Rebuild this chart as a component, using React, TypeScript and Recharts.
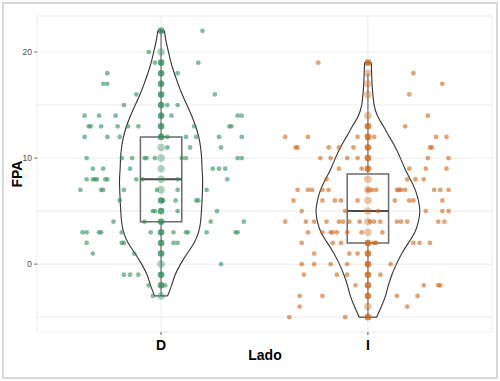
import {
  CartesianGrid,
  ComposedChart,
  Label,
  Line,
  ReferenceArea,
  ReferenceLine,
  Scatter,
  XAxis,
  YAxis,
} from "recharts";

const GREEN = "#2e8b57";
const ORANGE = "#cc6314";
const FONT = "'Liberation Sans', Arial, sans-serif";

const CATEGORIES = ["D", "I"];
const Y_TICKS = [-5, 0, 5, 10, 15, 20];
const Y_MAJOR = [0, 10, 20];

// jittered observations: value -> horizontal positions
const dJitter: [number, number[]][] = [
  [22, [1.2]],
  [20, [0.94]],
  [19, [0.97, 1.18]],
  [18, [0.74, 1.08]],
  [17, [0.72, 0.74]],
  [16, [0.88, 1.26]],
  [15, [0.82, 1.03, 1.08]],
  [14, [0.63, 0.7, 0.78, 1.05, 1.37, 1.39]],
  [13, [0.65, 0.66, 0.71, 0.79, 0.84, 0.89, 1.16, 1.33, 1.34]],
  [12, [0.63, 0.74, 0.8, 1.03, 1.12, 1.17, 1.28, 1.39]],
  [11, [1.03, 1.14, 1.29]],
  [10, [0.64, 0.81, 0.86, 0.92, 0.93, 0.97, 1.1, 1.12, 1.37, 1.39]],
  [9, [0.67, 0.72, 0.85, 1.25, 1.28, 1.31]],
  [8, [0.64, 0.67, 0.68, 0.69, 0.73, 0.74, 0.88, 0.91, 1.08, 1.32]],
  [7, [0.61, 0.71, 0.72, 0.82, 0.98, 1.08, 1.22]],
  [6, [0.8, 1.01, 1.07, 1.17, 1.18]],
  [5, [0.96, 0.97, 1.08, 1.27]],
  [4, [0.77, 0.92, 1.24, 1.4]],
  [3, [0.62, 0.64, 0.7, 0.71, 0.81, 0.95, 1.06, 1.12, 1.13, 1.22, 1.36, 1.37]],
  [2, [0.64, 0.81, 0.82, 1.06, 1.08]],
  [1, [0.67, 0.87]],
  [0, [1.29]],
  [-1, [0.82, 0.85, 0.89]],
  [-2, [0.94, 1.02]],
  [-3, [0.96]],
];

const iJitter: [number, number[]][] = [
  [19, [1.76]],
  [18, [2.22]],
  [17, [2.36]],
  [16, [2.2]],
  [14, [2.29]],
  [13, [2.18]],
  [12, [1.6, 1.71, 1.95, 2.03, 2.33, 2.38]],
  [11, [1.65, 1.66, 1.81, 1.86, 1.93, 2.3, 2.31]],
  [10, [1.77, 1.82, 1.9, 1.95, 2.29, 2.39]],
  [9, [1.86, 1.97, 2.2, 2.28, 2.38]],
  [8, [1.8, 2.19, 2.23, 2.27]],
  [7, [1.66, 1.71, 1.73, 1.78, 1.81, 2.0, 2.02, 2.04, 2.14, 2.15, 2.16, 2.18, 2.32, 2.35, 2.39]],
  [6, [1.64, 1.78, 1.84, 1.87, 1.95, 2.13, 2.2, 2.22, 2.36]],
  [5, [1.68, 1.89, 2.05, 2.28, 2.36, 2.39]],
  [4, [1.6, 1.7, 1.74, 1.8, 1.86, 1.88, 1.91, 1.96, 2.01, 2.03, 2.06, 2.14, 2.16, 2.19, 2.34, 2.37]],
  [3, [1.71, 1.78, 1.82, 1.83, 1.85, 1.9, 1.97, 2.07]],
  [2, [1.68, 1.83, 1.87, 2.03, 2.04, 2.22, 2.25, 2.3]],
  [1, [1.74, 1.91, 1.95]],
  [0, [1.68, 1.74, 1.82, 1.9, 2.11]],
  [-1, [1.69, 1.85, 1.9, 2.06]],
  [-2, [1.94, 2.27, 2.34, 2.35]],
  [-3, [1.67, 1.78, 2.14, 2.24]],
  [-4, [1.67, 2.19]],
  [-5, [1.62, 1.89]],
];

// stacked values on the centre line (light = few, dark = many overlapping)
const dStackLight = [20, 11, 10, 9, 8, 7, 0, -3];
const dStackDark = [22, 19, 18, 17, 16, 15, 14, 13, 12, 6, 5, 4, 3, 2, 1, -1, -2];
const iStackLight = [18, 17, 16, 14, 8, 7, 6, 5, 4, 3, -4];
const iStackDark = [19, 13, 12, 11, 10, 9, 2, 1, 0, -1, -2, -3, -5];

// violin outline: levels and half widths (x units)
const dLevels = [22, 21, 20, 19, 18, 17, 16, 15, 14, 13, 12, 11, 10, 9, 8, 7, 6, 5, 4, 3, 2, 1, 0, -1, -2, -3];
const dHalf = [
  0.016, 0.024, 0.036, 0.048, 0.064, 0.082, 0.102, 0.125, 0.148, 0.167, 0.182, 0.191, 0.196, 0.198, 0.201, 0.2,
  0.198, 0.195, 0.191, 0.181, 0.159, 0.126, 0.094, 0.068, 0.051, 0.031,
];
const iLevels = [19, 18, 17, 16, 15, 14, 13, 12, 11, 10, 9, 8, 7, 6, 5, 4, 3, 2, 1, 0, -1, -2, -3, -4, -5];
const iHalf = [
  0.016, 0.018, 0.02, 0.024, 0.03, 0.046, 0.075, 0.104, 0.133, 0.157, 0.179, 0.205, 0.229, 0.244, 0.251, 0.244,
  0.227, 0.196, 0.164, 0.138, 0.116, 0.099, 0.085, 0.065, 0.042,
];

// box stats: [q1, median, q3, lowWhisker, highWhisker]
const dBox = [4, 8, 12, -3, 22];
const iBox = [2, 5, 8.5, -5, 18];

const flatten = (rows: [number, number[]][]) => rows.flatMap(([y, xs]) => xs.map((x) => ({ x, y })));
const column = (c: number, ys: number[]) => ys.map((y) => ({ x: c, y }));
const side = (c: number, levels: number[], half: number[], s: number) =>
  levels.map((y, i) => ({ x: c + s * half[i], y }));
const cap = (c: number, y: number, h: number) => [
  { x: c - h, y },
  { x: c + h, y },
];

const dot = (r: number, fill: string, op: number) => (p: { cx?: number; cy?: number }) => (
  <circle cx={p.cx ?? 0} cy={p.cy ?? 0} r={r} fill={fill} fillOpacity={op} />
);

function YTick(props: { y?: number; payload?: { value: number } }) {
  const v = props.payload?.value ?? 0;
  if (!Y_MAJOR.includes(v)) return null;
  const y = props.y ?? 0;
  return (
    <g>
      <line x1={34.3} x2={37} y1={y} y2={y} stroke="#333" strokeWidth={0.8} />
      <text x={32} y={y} dy="0.35em" textAnchor="end" fontSize={8.5} fill="#4d4d4d" fontFamily={FONT}>
        {v}
      </text>
    </g>
  );
}

function XTick(props: { x?: number; y?: number; payload?: { value: number } }) {
  const x = props.x ?? 0;
  const v = props.payload?.value ?? 1;
  return (
    <g>
      <line x1={x} x2={x} y1={332} y2={335} stroke="#333" strokeWidth={0.8} />
      <text x={x} y={350} textAnchor="middle" fontSize={14} fontWeight="bold" fill="#000" fontFamily={FONT}>
        {CATEGORIES[v - 1]}
      </text>
    </g>
  );
}

const lineProps = {
  dataKey: "y",
  dot: false,
  activeDot: false,
  isAnimationActive: false,
} as const;

export default function App() {
  const groups = [
    { c: 1, color: GREEN, jit: dJitter, light: dStackLight, dark: dStackDark, lv: dLevels, hw: dHalf, box: dBox },
    { c: 2, color: ORANGE, jit: iJitter, light: iStackLight, dark: iStackDark, lv: iLevels, hw: iHalf, box: iBox },
  ];

  return (
    <div style={{ position: "relative", width: 500, height: 381, background: "#fff" }}>
      <style>{"body{margin:0}"}</style>
      <div
        style={{
          position: "absolute",
          left: 2,
          top: 2,
          width: 496,
          height: 377,
          boxSizing: "border-box",
          border: "2px solid #d9d9d9",
          pointerEvents: "none",
        }}
      />
      <ComposedChart width={500} height={381} margin={{ top: 16, right: 8, bottom: 0, left: 0 }}>
        <CartesianGrid stroke="#ebebeb" strokeWidth={1} />
        <XAxis
          type="number"
          dataKey="x"
          domain={[0.4, 2.6]}
          ticks={[1, 2]}
          allowDataOverflow
          axisLine={false}
          tickLine={false}
          height={49}
          tick={<XTick />}
        >
          <Label
            content={() => (
              <text x={265} y={360} textAnchor="middle" fontSize={14} fontWeight="bold" fontFamily={FONT}>
                Lado
              </text>
            )}
          />
        </XAxis>
        <YAxis
          type="number"
          dataKey="y"
          domain={[-6.4, 23.4]}
          ticks={Y_TICKS}
          allowDataOverflow
          axisLine={false}
          tickLine={false}
          width={37}
          tick={<YTick />}
        >
          <Label
            content={() => (
              <text
                x={21.5}
                y={174}
                transform="rotate(-90 21.5 174)"
                textAnchor="middle"
                fontSize={14}
                fontWeight="bold"
                fontFamily={FONT}
              >
                FPA
              </text>
            )}
          />
        </YAxis>

        {/* whiskers first so the points sit on top */}
        {groups.flatMap((g) => [
          <Line
            key={`wl${g.c}`}
            {...lineProps}
            data={column(g.c, [g.box[3], g.box[0]])}
            type="linear"
            stroke="#8a8a8a"
            strokeWidth={1.5}
          />,
          <Line
            key={`wh${g.c}`}
            {...lineProps}
            data={column(g.c, [g.box[2], g.box[4]])}
            type="linear"
            stroke="#8a8a8a"
            strokeWidth={1.5}
          />,
        ])}

        {groups.map((g) => (
          <Scatter
            key={`j${g.c}`}
            data={flatten(g.jit)}
            shape={dot(2.4, g.color, 0.58)}
            isAnimationActive={false}
          />
        ))}
        {groups.map((g) => (
          <Scatter
            key={`l${g.c}`}
            data={column(g.c, g.light)}
            shape={dot(3.8, g.color, 0.38)}
            isAnimationActive={false}
          />
        ))}
        {groups.map((g) => (
          <Scatter
            key={`d${g.c}`}
            data={column(g.c, g.dark)}
            shape={dot(3.3, g.color, 0.78)}
            isAnimationActive={false}
          />
        ))}

        {groups.flatMap((g) => [
          <Line key={`vl${g.c}`} {...lineProps} data={side(g.c, g.lv, g.hw, -1)} type="natural" stroke="#333" strokeWidth={1.1} />,
          <Line key={`vr${g.c}`} {...lineProps} data={side(g.c, g.lv, g.hw, 1)} type="natural" stroke="#333" strokeWidth={1.1} />,
          <Line key={`vt${g.c}`} {...lineProps} data={cap(g.c, g.lv[0], g.hw[0])} type="linear" stroke="#333" strokeWidth={1.1} />,
          <Line
            key={`vb${g.c}`}
            {...lineProps}
            data={cap(g.c, g.lv[g.lv.length - 1], g.hw[g.hw.length - 1])}
            type="linear"
            stroke="#333"
            strokeWidth={1.1}
          />,
        ])}

        {groups.map((g) => (
          <ReferenceArea
            key={`b${g.c}`}
            x1={g.c - 0.1}
            x2={g.c + 0.1}
            y1={g.box[0]}
            y2={g.box[2]}
            fill="none"
            stroke="#6b6b6b"
            strokeWidth={1.5}
          />
        ))}
        {groups.map((g) => (
          <ReferenceLine
            key={`m${g.c}`}
            segment={[
              { x: g.c - 0.1, y: g.box[1] },
              { x: g.c + 0.1, y: g.box[1] },
            ]}
            stroke="#4a4a4a"
            strokeWidth={2}
          />
        ))}
      </ComposedChart>
    </div>
  );
}
